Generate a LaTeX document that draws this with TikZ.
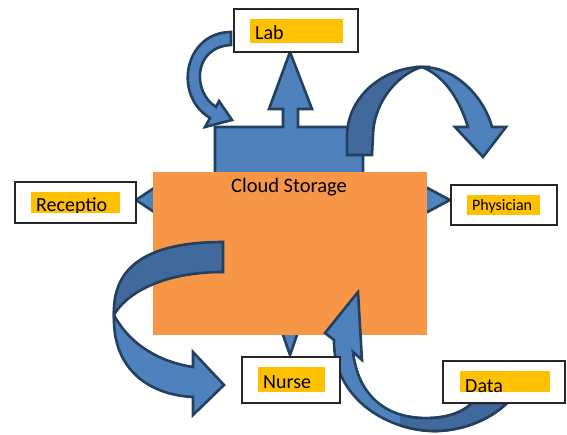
\documentclass[tikz,border=0pt]{standalone}
\usepackage{fontspec}
\setmainfont{Carlito}
\definecolor{arrowblue}{HTML}{4F81BD}
\definecolor{arrowdark}{HTML}{41699C}
\definecolor{edgeblue}{HTML}{24405F}
\definecolor{cloudorange}{HTML}{F79646}
\definecolor{markyellow}{HTML}{FFC000}
\begin{document}
\begin{tikzpicture}[x=1pt, y=-1pt,
	blockarrow/.style={fill=arrowblue, draw=edgeblue, line width=2.6pt, line join=miter},
	backside/.style={blockarrow, fill=arrowdark},
	labelbox/.style={draw=black!85, fill=white, line width=1.1pt, inner sep=0pt},
	hilite/.style={fill=markyellow},
	tag/.style={anchor=base west, inner sep=0pt, font=\fontsize{20}{24}\selectfont}]
	\useasboundingbox (0, 0) rectangle (567, 435);

	% straight arrows behind the cloud
	\draw[blockarrow] (136, 200) -- (160, 184) -- (160, 193) -- (420, 193) -- (420, 184) -- (450, 200)
		-- (420, 216) -- (420, 207) -- (160, 207) -- (160, 216) -- cycle;
	\draw[blockarrow] (290, 355) -- (276, 315) -- (304, 315) -- cycle;

	% curved arrow to the lab
	\draw[blockarrow] (231, 32) .. controls (185, 32) and (172, 95) .. (210, 118) -- (205, 127) -- (232, 120)
		-- (219, 101) -- (216, 107) .. controls (192, 92) and (193, 47) .. (231, 45) -- cycle;

	% server block with its arrow up
	\draw[blockarrow] (215, 200) -- (215, 127) -- (283, 127) -- (283, 109) -- (269, 109) -- (290, 52)
		-- (312, 109) -- (298, 109) -- (298, 127) -- (363, 127) -- (363, 200) -- cycle;

	% arch towards the physician
	\draw[backside] (347, 155) -- (347, 135) .. controls (348, 95) and (385, 67) .. (422, 67)
		.. controls (400, 73) and (374, 100) .. (373, 135) -- (372, 155) -- cycle;
	\draw[blockarrow] (422, 67) .. controls (458, 67) and (485, 100) .. (492, 127) -- (506, 127) -- (483, 157)
		-- (455, 127) -- (468, 127) .. controls (458, 95) and (442, 75) .. (422, 67) -- cycle;

	% cloud storage
	\node[fill=cloudorange, inner sep=0pt, minimum width=274, minimum height=163] (cloud) at (290, 253.5) {};
	\node[anchor=base, inner sep=0pt, font=\fontsize{20.5}{24}\selectfont] (cloudtxt) at (289, 193) {Cloud Storage};

	% curved arrow to the nurse
	\draw[backside] (223, 242) .. controls (150, 242) and (112, 265) .. (114, 315)
		.. controls (125, 295) and (160, 272) .. (223, 272) -- cycle;
	\draw[blockarrow] (114, 315) .. controls (112, 370) and (150, 395) .. (193, 397) -- (193, 415) -- (224, 385)
		-- (193, 352) -- (193, 367) .. controls (160, 362) and (130, 345) .. (114, 315) -- cycle;

	% curved arrow from the data
	\draw[blockarrow] (353, 352) -- (362, 360) -- (358, 292) -- (325, 333) -- (334, 340)
		.. controls (333, 400) and (390, 432) .. (437, 431) .. controls (470, 430) and (495, 415) .. (507, 403)
		-- (472, 403) .. controls (460, 415) and (440, 419) .. (420, 418)
		.. controls (385, 416) and (358, 395) .. (353, 352) -- cycle;
	\begin{scope}
		\clip (400, 380) rectangle (520, 440);
		\draw[backside] (334, 340) .. controls (333, 400) and (390, 432) .. (437, 431)
			.. controls (470, 430) and (495, 415) .. (507, 403) -- (472, 403)
			.. controls (460, 415) and (440, 419) .. (420, 418) .. controls (385, 416) and (358, 395) .. (353, 352);
	\end{scope}

	% boxes
	\node[labelbox, minimum width=124, minimum height=43] (lab) at (296, 30.5) {};
	\fill[hilite] (250, 19) rectangle (343, 43);
	\node[tag] (labtxt) at (255, 39.3) {Lab};

	\node[labelbox, minimum width=121, minimum height=41] (recep) at (75.5, 202.5) {};
	\begin{scope}
		\clip (31, 192) rectangle (120, 213);
		\fill[hilite] (31, 192) rectangle (120, 213);
		\node[tag] (receptxt) at (36, 211.5) {Receptio};
	\end{scope}

	\node[labelbox, minimum width=106, minimum height=40] (phys) at (504, 205) {};
	\fill[hilite] (467, 195) rectangle (540, 215);
	\node[tag, font=\fontsize{16}{19}\selectfont] (phystxt) at (472, 211) {Physician};

	\node[labelbox, minimum width=98, minimum height=46] (nurse) at (291, 380) {};
	\fill[hilite] (258, 367) rectangle (325, 392);
	\node[tag] (nursetxt) at (263, 388) {Nurse};

	\node[labelbox, minimum width=122, minimum height=42] (data) at (504, 382) {};
	\fill[hilite] (460, 371) rectangle (550, 392);
	\node[tag] (datatxt) at (465, 392) {Data};
\end{tikzpicture}
\end{document}
